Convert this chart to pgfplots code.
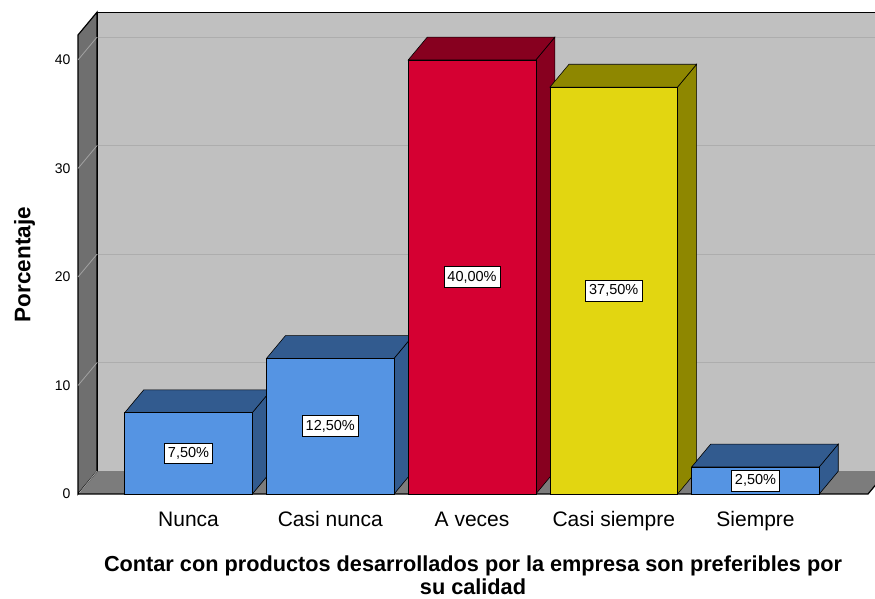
\documentclass[border=0pt]{standalone}
\usepackage{fontspec}
\setmainfont{Liberation Sans}
\usepackage{pgfplots}
\pgfplotsset{compat=1.18}
\definecolor{backwall}{HTML}{C0C0C0}
\definecolor{sidewall}{HTML}{6F6F6F}
\definecolor{floorc}{HTML}{7C7C7C}
\definecolor{gridback}{HTML}{ADADAD}
\definecolor{gridside}{HTML}{A2A2A2}
\definecolor{bluef}{HTML}{5594E3}
\definecolor{blued}{HTML}{325B8F}
\definecolor{redf}{HTML}{D50032}
\definecolor{redd}{HTML}{87001F}
\definecolor{yelf}{HTML}{E2D611}
\definecolor{yeld}{HTML}{8E8700}
\begin{document}
\begin{tikzpicture}[x=1pt,y=1pt]
\path[use as bounding box] (0,0) rectangle (875,599);
\clip (0,0) rectangle (875,599);
\begin{axis}[
  at={(78pt,105pt)}, anchor=south west,
  scale only axis, width=790pt, height=459pt,
  xmin=-0.78, xmax=4.7937, ymin=0, ymax=42.3,
  clip=false,
  axis line style={draw=none},
  tick style={draw=none},
  major tick length=0pt,
  ytick={0,10,20,30,40},
  xtick={0,1,2,3,4},
  xticklabels={Nunca,Casi nunca,A veces,Casi siempre,Siempre},
  /pgf/number format/assume math mode=true,
  yticklabel style={font=\fontsize{14}{16}\selectfont, anchor=east, xshift=-4pt},
  xticklabel style={font=\fontsize{21}{24}\selectfont, anchor=base, inner sep=0pt, yshift=-33pt},
  xlabel={Contar con productos desarrollados por la empresa son preferibles por\\su calidad},
  xlabel style={at={(axis description cs:0.5,0)}, anchor=north, inner sep=0pt, align=center, font=\bfseries\fontsize{21.7}{22.5}\selectfont, yshift=-62pt},
  ylabel={Porcentaje},
  ylabel style={font=\bfseries\fontsize{22.5}{24}\selectfont, yshift=13pt},
]
% back wall
\addplot[fill=backwall, draw=none] coordinates {(-0.646,2.1) (4.9277,2.1) (4.9277,44.4) (-0.646,44.4)} --cycle;
\addplot[black, line width=1.2pt] coordinates {(-0.646,2.1) (-0.646,44.4) (4.9277,44.4)};
% back gridlines
\addplot[gridback, line width=1pt] coordinates {(-0.646,12.1) (4.9277,12.1)};
\addplot[gridback, line width=1pt] coordinates {(-0.646,22.1) (4.9277,22.1)};
\addplot[gridback, line width=1pt] coordinates {(-0.646,32.1) (4.9277,32.1)};
\addplot[gridback, line width=1pt] coordinates {(-0.646,42.1) (4.9277,42.1)};
% floor
\addplot[fill=floorc, draw=none] coordinates {(-0.78,0) (4.7937,0) (4.9277,2.1) (-0.646,2.1)} --cycle;
\addplot[black, line width=1.2pt] coordinates {(-0.78,0) (4.7937,0) (4.9277,2.1)};
% left wall
\addplot[fill=sidewall, draw=black, line width=1.2pt] coordinates {(-0.78,0) (-0.646,2.1) (-0.646,44.4) (-0.78,42.3)} --cycle;
\addplot[gridside, line width=0.8pt] coordinates {(-0.78,10) (-0.646,12.1)};
\addplot[gridside, line width=0.8pt] coordinates {(-0.78,20) (-0.646,22.1)};
\addplot[gridside, line width=0.8pt] coordinates {(-0.78,30) (-0.646,32.1)};
\addplot[gridside, line width=0.8pt] coordinates {(-0.78,40) (-0.646,42.1)};
\addplot[gridside, line width=0.8pt] coordinates {(-0.77,0.1) (-0.646,2.1)};
% bar 0: Nunca 7.5
\addplot[fill=blued, draw=black, line width=0.6pt] coordinates {(0.45,0) (0.584,2.1) (0.584,9.6) (0.45,7.5)} --cycle;
\addplot[fill=blued, draw=black, line width=0.6pt] coordinates {(-0.45,7.5) (0.45,7.5) (0.584,9.6) (-0.316,9.6)} --cycle;
\addplot[ybar, bar width=0.9, bar shift=0pt, fill=bluef, draw=black, line width=0.6pt] coordinates {(0,7.5)};
% bar 1: Casi nunca 12.5
\addplot[fill=blued, draw=black, line width=0.6pt] coordinates {(1.45,0) (1.584,2.1) (1.584,14.6) (1.45,12.5)} --cycle;
\addplot[fill=blued, draw=black, line width=0.6pt] coordinates {(0.55,12.5) (1.45,12.5) (1.584,14.6) (0.684,14.6)} --cycle;
\addplot[ybar, bar width=0.9, bar shift=0pt, fill=bluef, draw=black, line width=0.6pt] coordinates {(1,12.5)};
% bar 2: A veces 40
\addplot[fill=redd, draw=black, line width=0.6pt] coordinates {(2.45,0) (2.584,2.1) (2.584,42.1) (2.45,40)} --cycle;
\addplot[fill=redd, draw=black, line width=0.6pt] coordinates {(1.55,40) (2.45,40) (2.584,42.1) (1.684,42.1)} --cycle;
\addplot[ybar, bar width=0.9, bar shift=0pt, fill=redf, draw=black, line width=0.6pt] coordinates {(2,40)};
% bar 3: Casi siempre 37.5
\addplot[fill=yeld, draw=black, line width=0.6pt] coordinates {(3.45,0) (3.584,2.1) (3.584,39.6) (3.45,37.5)} --cycle;
\addplot[fill=yeld, draw=black, line width=0.6pt] coordinates {(2.55,37.5) (3.45,37.5) (3.584,39.6) (2.684,39.6)} --cycle;
\addplot[ybar, bar width=0.9, bar shift=0pt, fill=yelf, draw=black, line width=0.6pt] coordinates {(3,37.5)};
% bar 4: Siempre 2.5
\addplot[fill=blued, draw=black, line width=0.6pt] coordinates {(4.45,0) (4.584,2.1) (4.584,4.6) (4.45,2.5)} --cycle;
\addplot[fill=blued, draw=black, line width=0.6pt] coordinates {(3.55,2.5) (4.45,2.5) (4.584,4.6) (3.684,4.6)} --cycle;
\addplot[ybar, bar width=0.9, bar shift=0pt, fill=bluef, draw=black, line width=0.6pt] coordinates {(4,2.5)};
% value labels
\tikzset{vl/.style={fill=white, draw=black, line width=0.6pt, inner xsep=3.5pt, inner ysep=4.5pt, font=\fontsize{14.5}{16}\selectfont}}
\node[vl] at (axis cs:0,3.75) {7,50\%};
\node[vl] at (axis cs:1,6.25) {12,50\%};
\node[vl] at (axis cs:2,20) {40,00\%};
\node[vl] at (axis cs:3,18.75) {37,50\%};
\node[vl] at (axis cs:4,1.25) {2,50\%};
\end{axis}
\end{tikzpicture}
\end{document}
